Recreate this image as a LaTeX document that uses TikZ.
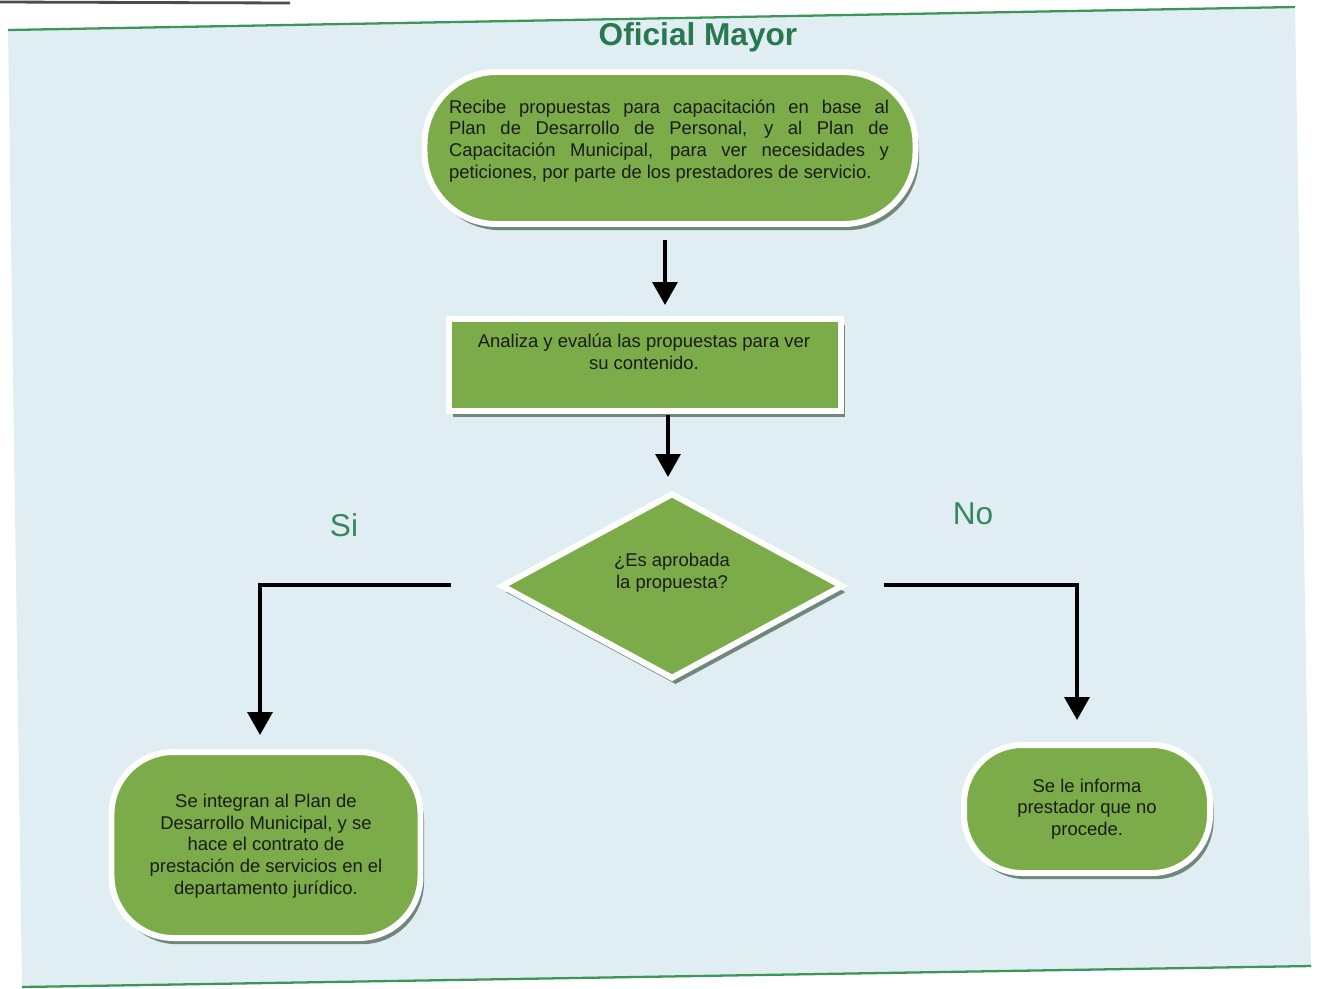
\documentclass[tikz,border=0pt]{standalone}
\usepackage{fontspec}
\setmainfont{Liberation Sans}
\usetikzlibrary{shapes.geometric,shadows,arrows.meta}

\definecolor{panelc}{RGB}{224,237,242}
\definecolor{greenc}{RGB}{124,172,74}
\definecolor{titlec}{RGB}{40,120,80}
\definecolor{labelc}{RGB}{55,135,95}
\definecolor{shadowc}{RGB}{112,136,122}
\definecolor{linec}{RGB}{60,150,90}
\definecolor{inkc}{RGB}{25,28,25}

\newcommand\pxl{0.02cm}

\tikzset{
  boxbase/.style={fill=greenc, draw=white, line width=3.4pt, inner sep=0pt,
    drop shadow={shadow xshift=2pt, shadow yshift=-3.5pt, fill=shadowc, opacity=1}},
  stadium/.style={boxbase, rectangle, rounded corners=#1},
  procbox/.style={boxbase, rectangle},
  decision/.style={boxbase, diamond},
  boxtext/.style={text=inkc, font=\fontsize{10.5}{12.4}\selectfont, inner sep=0pt},
  flow/.style={draw=black, line width=2.3pt,
    -{Triangle[width=14pt,length=13pt]}},
  answer/.style={text=labelc, font=\fontsize{18}{21}\selectfont},
}

\begin{document}
\begin{tikzpicture}[x=0.02cm,y=-0.02cm]
  \useasboundingbox (0,0) rectangle (1317,988);

  % sheet background and its green rules
  \fill[panelc] (8,30) -- (1295,7) -- (1311,966) -- (22,987) -- cycle;
  \draw[linec, line width=1.3pt] (8,30) -- (1295,7);
  \draw[linec, line width=1.3pt] (22,987) -- (1311,966);
  \draw[gray!60!black, line width=1.6pt] (0,2) -- (290,3);

  % title
  \node[font=\fontsize{18}{21}\bfseries\selectfont, text=titlec] (title) at (698,37) {Oficial Mayor};

  % flow steps: shapes
  \node[stadium=72*\pxl, minimum width=491*\pxl, minimum height=152*\pxl] (recibe) at (670,148) {};
  \node[procbox, minimum width=392*\pxl, minimum height=92*\pxl] (analiza) at (645,365) {};
  \node[decision, minimum width=342*\pxl, minimum height=186*\pxl] (aprobada) at (672,586) {};
  \node[stadium=62*\pxl, minimum width=309*\pxl, minimum height=186*\pxl] (integran) at (266,845) {};
  \node[stadium=58*\pxl, minimum width=246*\pxl, minimum height=128*\pxl] (informa) at (1087,809) {};

  % flow steps: texts
  \node[boxtext, text width=440*\pxl, align=justify] (recibeText) at (669,141)
    {Recibe propuestas para capacitación en base al\linebreak
     Plan de Desarrollo de Personal, y al Plan de\linebreak
     Capacitación Municipal, para ver necesidades y\linebreak
     peticiones, por parte de los prestadores de servicio.};
  \node[boxtext, align=center] (analizaText) at (644,352)
    {Analiza y evalúa las propuestas para ver\\su contenido.};
  \node[boxtext, align=center] (aprobadaText) at (672,573)
    {¿Es aprobada\\la propuesta?};
  \node[boxtext, align=center] (integranText) at (266,846)
    {Se integran al Plan de\\Desarrollo Municipal, y se\\hace el contrato de\\
     prestación de servicios en el\\departamento jurídico.};
  \node[boxtext, align=center] (informaText) at (1087,809)
    {Se le informa\\prestador que no\\procede.};

  % answer labels
  \node[answer] (si) at (344,525) {Si};
  \node[answer] (no) at (973,514) {No};

  % connectors
  \coordinate (siStart) at (451,585);
  \coordinate (noStart) at (884,585);

  \draw[flow, shorten <=13*\pxl, shorten >=11*\pxl]
    ([xshift=-5*\pxl]recibe.south) -- ([xshift=-5*\pxl]recibe.south |- analiza.north);
  \draw[flow, shorten <=1*\pxl, shorten >=13*\pxl]
    ([xshift=-4*\pxl]aprobada.north |- analiza.south) -- ([xshift=-4*\pxl]aprobada.north);
  \draw[flow, shorten >=14*\pxl]
    (siStart) -| ([xshift=-6*\pxl]integran.north);
  \draw[flow, shorten >=22*\pxl]
    (noStart) -| ([xshift=-10*\pxl]informa.north);
\end{tikzpicture}
\end{document}
